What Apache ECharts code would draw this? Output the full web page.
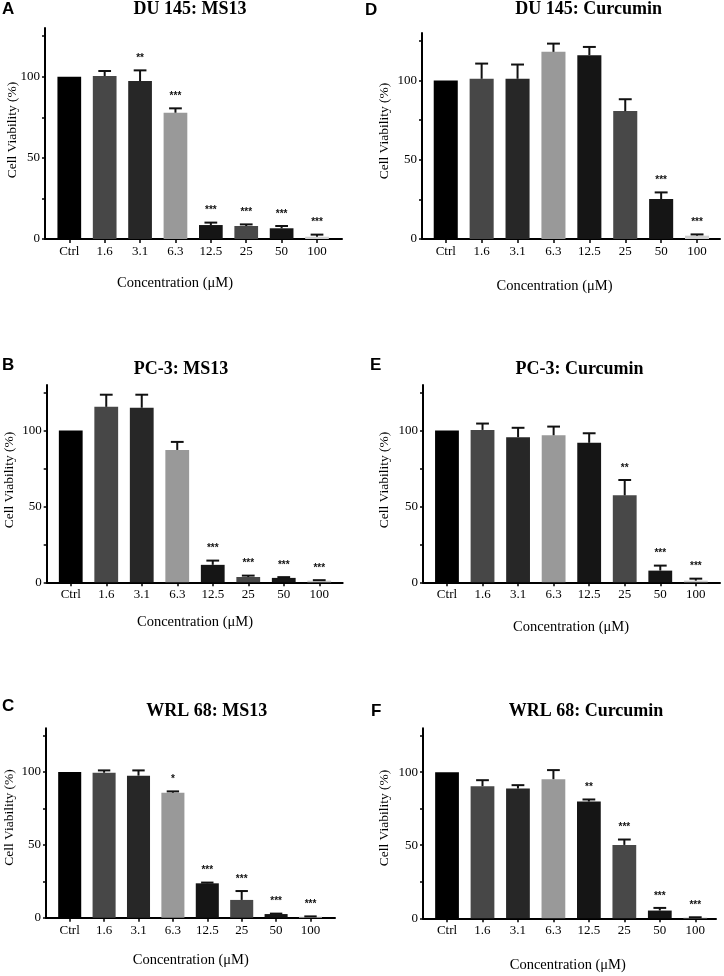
<!DOCTYPE html>
<html>
<head>
<meta charset="utf-8">
<script src="https://cdn.jsdelivr.net/npm/echarts@6/dist/echarts.min.js"></script>
<style>html,body{margin:0;padding:0;background:#fff;}#c{width:724px;height:976px;}</style>
</head>
<body>
<div id="c"></div>
<script>
// ---- data ----
const categories = ['Ctrl', '1.6', '3.1', '6.3', '12.5', '25', '50', '100'];
const yLabelTicks = [0, 50, 100];
const yMinorTicks = [0, 25, 50, 75, 100, 125];

const duMS13 = [100, 100.4, 97.3, 77.8, 8.6, 8.0, 6.6, 1.4];
const duMS13Err = [0, 3.1, 6.6, 2.7, 1.5, 1.0, 1.4, 1.3];
const duMS13Sig = ['', '', '**', '***', '***', '***', '***', '***'];

const duCur = [100, 101.1, 101.1, 118.1, 116.0, 80.7, 25.2, 2.1];
const duCurErr = [0, 9.6, 9.0, 5.2, 5.2, 7.5, 4.2, 0.8];
const duCurSig = ['', '', '', '', '', '', '***', '***'];

const pcMS13 = [100, 115.6, 115.0, 87.2, 11.5, 3.5, 2.9, 1.1];
const pcMS13Err = [0, 8.0, 8.6, 5.3, 2.8, 0.9, 0.5, 0.3];
const pcMS13Sig = ['', '', '', '', '***', '***', '***', '***'];

const pcCur = [100, 100.4, 95.6, 96.9, 91.9, 57.3, 7.7, 1.1];
const pcCurErr = [0, 4.2, 6.2, 5.7, 6.3, 10.1, 3.3, 1.3];
const pcCurSig = ['', '', '', '', '', '**', '***', '***'];

const wrlMS13 = [100, 99.5, 97.5, 85.8, 23.6, 12.2, 2.5, 0.7];
const wrlMS13Err = [0, 1.6, 3.6, 0.9, 0.5, 6.1, 0.3, 0.2];
const wrlMS13Sig = ['', '', '', '*', '***', '***', '***', '***'];

const wrlCur = [100, 90.4, 88.8, 95.2, 79.9, 50.2, 5.3, 0.5];
const wrlCurErr = [0, 4.1, 2.3, 6.2, 1.4, 3.7, 1.8, 0.2];
const wrlCurSig = ['', '', '', '', '**', '***', '***', '***'];

const titles = ['DU 145: MS13', 'DU 145: Curcumin', 'PC-3: MS13', 'PC-3: Curcumin', 'WRL 68: MS13', 'WRL 68: Curcumin'];
const letters = ['A', 'D', 'B', 'E', 'C', 'F'];
const yName = 'Cell Viability (%)';
const xName = 'Concentration (\u03bcM)';

// ---- layout / style ----
const barColors = ['#000000', '#474747', '#272727', '#999999', '#151515', '#484848', '#151515', '#cfcfcf'];
const SERIF = 'Liberation Serif';
const panels = [
  {vals: duMS13, errs: duMS13Err, sig: duMS13Sig,
   o: {l: 45, r: 342, t: 28, b: 239}, i: {l: 51.6, r: 334.7},
   title: [190, 9.5], letter: [2, 9.7], yname: [12, 130], xname: [175, 283.5]},
  {vals: duCur, errs: duCurErr, sig: duCurSig,
   o: {l: 422, r: 720, t: 33, b: 239}, i: {l: 427.8, r: 715},
   title: [588.7, 9.5], letter: [365, 10.5], yname: [384.5, 131], xname: [554.5, 286]},
  {vals: pcMS13, errs: pcMS13Err, sig: pcMS13Sig,
   o: {l: 46.7, r: 342.7, t: 385, b: 582.3}, i: {l: 53, r: 337},
   title: [181, 369], letter: [2, 365.5], yname: [9.2, 480], xname: [195, 621.7]},
  {vals: pcCur, errs: pcCurErr, sig: pcCurSig,
   o: {l: 423, r: 720, t: 385, b: 582.3}, i: {l: 429.2, r: 713.6},
   title: [579.5, 369], letter: [370, 365.5], yname: [384.5, 480], xname: [571, 627.5]},
  {vals: wrlMS13, errs: wrlMS13Err, sig: wrlMS13Sig,
   o: {l: 46, r: 335, t: 728.3, b: 917.7}, i: {l: 52.5, r: 327.7},
   title: [206.7, 711.7], letter: [2, 706.5], yname: [9.2, 817.5], xname: [190.8, 960]},
  {vals: wrlCur, errs: wrlCurErr, sig: wrlCurSig,
   o: {l: 423, r: 716, t: 728.3, b: 918.3}, i: {l: 429.3, r: 713},
   title: [586, 711.7], letter: [371, 711.7], yname: [384.5, 818], xname: [567.8, 965.5]}
];

const W = 724, H = 976;
const grid = [], xAxis = [], yAxis = [], series = [], graphic = [];

panels.forEach((p, k) => {
  const go = 2 * k, gi = 2 * k + 1;
  grid.push({left: p.o.l, width: p.o.r - p.o.l, top: p.o.t, height: p.o.b - p.o.t, containLabel: false});
  grid.push({left: p.i.l, width: p.i.r - p.i.l, top: p.o.t, height: p.o.b - p.o.t, containLabel: false});
  // outer axes (lines)
  xAxis.push({gridIndex: go, type: 'value', min: 0, max: 1,
    axisLine: {show: true, onZero: false, lineStyle: {color: '#000', width: 2}},
    axisTick: {show: false}, axisLabel: {show: false}, splitLine: {show: false}});
  yAxis.push({gridIndex: go, type: 'value', min: 0, max: 130,
    axisLine: {show: true, lineStyle: {color: '#000', width: 2}},
    axisTick: {show: true, length: 3, customValues: yMinorTicks, lineStyle: {color: '#000', width: 1.5}},
    axisLabel: {show: true, customValues: yLabelTicks, margin: 5, color: '#000', fontFamily: SERIF, fontSize: 13},
    splitLine: {show: false}});
  // inner axes (bars)
  xAxis.push({gridIndex: gi, type: 'category', data: categories,
    axisLine: {show: false},
    axisTick: {show: true, alignWithLabel: true, length: 4, lineStyle: {color: '#000', width: 1.5}},
    axisLabel: {show: true, margin: 6, color: '#000', fontFamily: SERIF, fontSize: 13, interval: 0},
    splitLine: {show: false}});
  yAxis.push({gridIndex: gi, type: 'value', min: 0, max: 130, show: false, splitLine: {show: false}});

  series.push({type: 'bar', xAxisIndex: gi, yAxisIndex: gi, barWidth: '67%',
    data: p.vals.map((v, j) => ({value: v, itemStyle: {color: barColors[j]}})),
    silent: true, animation: false});
  series.push({type: 'custom', xAxisIndex: gi, yAxisIndex: gi, silent: true, animation: false, z: 5,
    data: p.vals.map((v, j) => [j, v, p.errs[j]]),
    encode: {x: 0, y: 1},
    renderItem: function (params, api) {
      const j = api.value(0), v = api.value(1), e = api.value(2);
      const base = api.coord([j, v]);
      const top = api.coord([j, v + e]);
      const half = api.size([1, 0])[0] * 0.18;
      const children = [];
      if (e > 0) {
        children.push({type: 'line', shape: {x1: base[0], y1: base[1], x2: top[0], y2: top[1]},
          style: {stroke: '#111', lineWidth: 2}});
        children.push({type: 'line', shape: {x1: top[0] - half, y1: top[1], x2: top[0] + half, y2: top[1]},
          style: {stroke: '#111', lineWidth: 2}});
      }
      const s = p.sig[params.dataIndex];
      if (s) {
        children.push({type: 'text', x: top[0], y: top[1] - 12,
          style: {text: s, fill: '#111', font: 'bold 10px "Liberation Sans"', align: 'center', verticalAlign: 'middle'}});
      }
      return {type: 'group', children: children};
    }});

  graphic.push({type: 'text', x: p.title[0], y: p.title[1],
    style: {text: titles[k], fill: '#000', font: 'bold 18px "' + SERIF + '"', align: 'center', verticalAlign: 'middle'}});
  graphic.push({type: 'text', x: p.letter[0], y: p.letter[1],
    style: {text: letters[k], fill: '#000', font: 'bold 17px "Liberation Sans"', align: 'left', verticalAlign: 'middle'}});
  graphic.push({type: 'text', x: p.yname[0], y: p.yname[1], rotation: Math.PI / 2,
    style: {text: yName, fill: '#000', font: '13.5px "' + SERIF + '"', align: 'center', verticalAlign: 'middle'}});
  graphic.push({type: 'text', x: p.xname[0], y: p.xname[1],
    style: {text: xName, fill: '#000', font: '14.5px "' + SERIF + '"', align: 'center', verticalAlign: 'middle'}});
});

const chart = echarts.init(document.getElementById('c'), null, {renderer: 'canvas', width: W, height: H});
chart.setOption({backgroundColor: '#fff', animation: false, grid, xAxis, yAxis, series, graphic});
</script>
</body>
</html>
